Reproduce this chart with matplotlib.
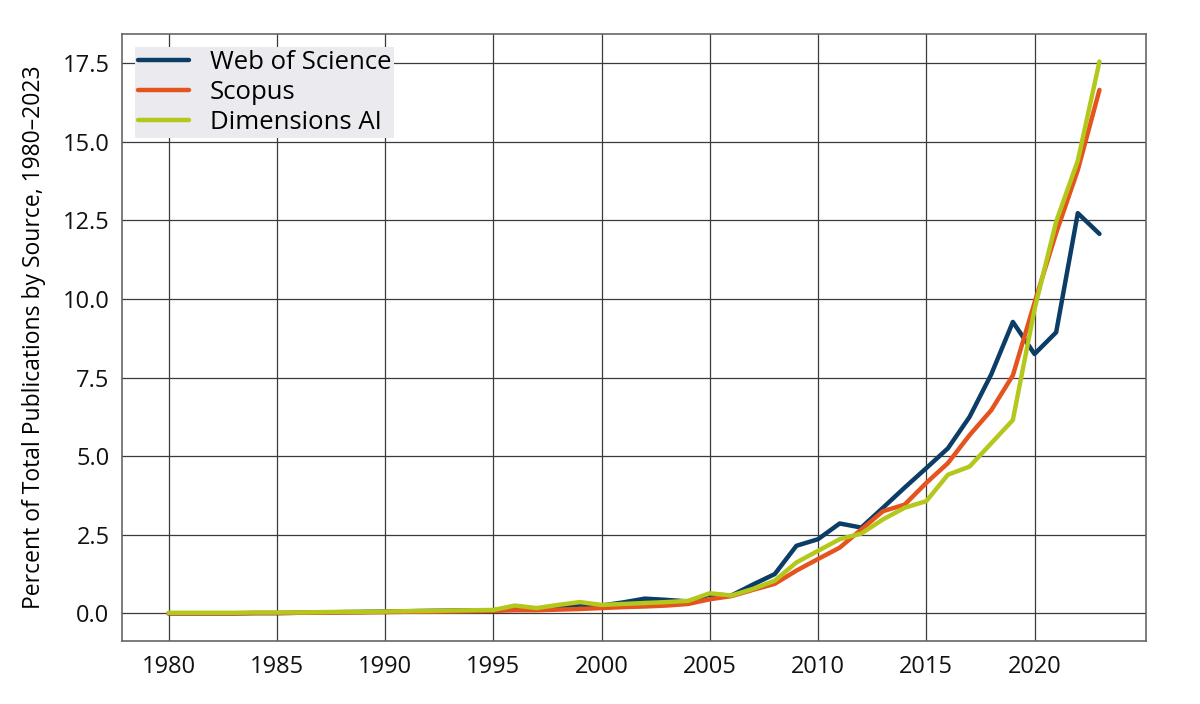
import matplotlib.pyplot as plt

years = list(range(1980, 2024))

web_of_science = [
    0.0, 0.0, 0.0, 0.0, 0.01, 0.01, 0.02, 0.03, 0.04, 0.05,
    0.06, 0.07, 0.08, 0.09, 0.10, 0.10, 0.18, 0.12, 0.20, 0.28,
    0.25, 0.35, 0.47, 0.43, 0.38, 0.60, 0.57, 0.92, 1.25, 2.15,
    2.36, 2.86, 2.73, 3.36, 4.00, 4.62, 5.25, 6.25, 7.60, 9.27,
    8.25, 8.94, 12.73, 12.07,
]
scopus = [
    0.0, 0.0, 0.0, 0.0, 0.01, 0.01, 0.02, 0.02, 0.03, 0.03,
    0.04, 0.05, 0.05, 0.06, 0.07, 0.08, 0.10, 0.10, 0.12, 0.14,
    0.17, 0.20, 0.22, 0.25, 0.30, 0.45, 0.55, 0.75, 0.94, 1.36,
    1.73, 2.09, 2.67, 3.25, 3.46, 4.15, 4.78, 5.67, 6.46, 7.57,
    9.88, 12.10, 14.10, 16.65,
]
dimensions = [
    0.02, 0.02, 0.02, 0.02, 0.03, 0.03, 0.03, 0.04, 0.05, 0.05,
    0.06, 0.07, 0.08, 0.09, 0.10, 0.11, 0.25, 0.17, 0.27, 0.36,
    0.27, 0.30, 0.33, 0.36, 0.40, 0.64, 0.57, 0.78, 1.04, 1.62,
    1.99, 2.36, 2.54, 2.99, 3.36, 3.57, 4.41, 4.67, 5.41, 6.15,
    9.67, 12.46, 14.40, 17.55,
]

labels = ["Web of Science", "Scopus", "Dimensions AI"]
colors = ["#0b3d66", "#e5531f", "#b4c81c"]

plt.rcParams['font.family'] = ['Open Sans', 'Noto Sans', 'DejaVu Sans']

fig = plt.figure(figsize=(12, 7.04), dpi=100)
ax = fig.add_axes([0.1017, 0.0895, 0.8533, 0.8622])

for series, label, color in zip([web_of_science, scopus, dimensions], labels, colors):
    ax.plot(years, series, color=color, linewidth=3.2, label=label, solid_capstyle='round')

ax.set_xticks(range(1980, 2021, 5))
ax.set_yticks([0, 2.5, 5, 7.5, 10, 12.5, 15, 17.5])
ax.set_yticklabels(["0.0", "2.5", "5.0", "7.5", "10.0", "12.5", "15.0", "17.5"])
ax.grid(True, color="#3a3a3a", linewidth=0.9)
ax.set_axisbelow(True)
ax.tick_params(length=0, labelsize=17, colors="#111111")
ax.tick_params(axis='x', pad=10)
ax.tick_params(axis='y', pad=9)
for spine in ax.spines.values():
    spine.set_color("#666666")
    spine.set_linewidth(1.2)

ax.set_ylabel("Percent of Total Publications by Source, 1980\u20132023", fontsize=16.5, labelpad=12)

leg = ax.legend(loc="upper left", fontsize=18.5, frameon=True, fancybox=False,
                borderpad=0.12, labelspacing=0.2, handlelength=2.0,
                handletextpad=0.8, borderaxespad=0.5)
leg.get_frame().set_facecolor("#ebebef")
leg.get_frame().set_edgecolor("none")
leg.get_frame().set_alpha(1)

fig.savefig("out.png", dpi=100)
